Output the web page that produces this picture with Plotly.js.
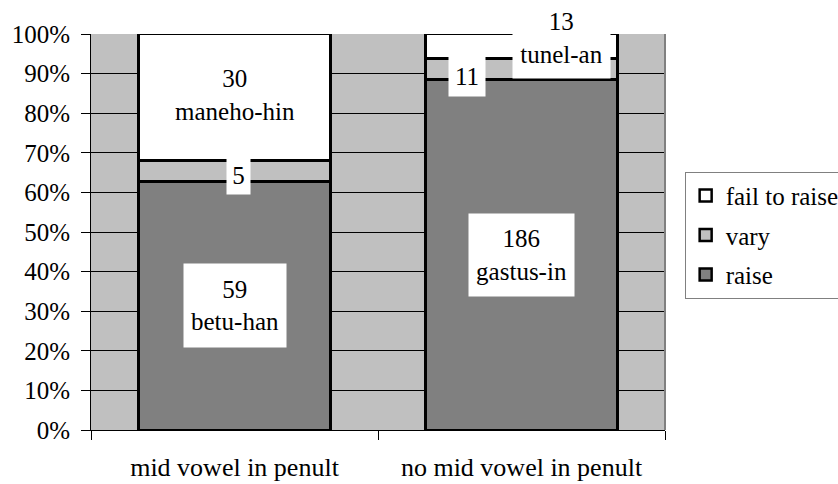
<!DOCTYPE html>
<html>
<head>
<meta charset="utf-8">
<script src="https://cdn.plot.ly/plotly-3.0.1.min.js"></script>
</head>
<body style="margin:0">
<div id="plotDiv" style="width:838px;height:484px"></div>
<script>
// Data: counts per group, stacked to 100%
const groups = ['mid vowel in penult', 'no mid vowel in penult'];
const seriesNames = ['raise', 'vary', 'fail to raise'];
const raiseCounts = [59, 186];
const varyCounts = [5, 11];
const failCounts = [30, 13];
const exampleWords = {
    raise: ['betu-han', 'gastus-in'],
    fail: ['maneho-hin', 'tunel-an']
};
const seriesColors = ['#808080', '#c0c0c0', '#ffffff'];

const serifFont = 'Liberation Serif';

const totals = groups.map((g, i) => raiseCounts[i] + varyCounts[i] + failCounts[i]);
const shares = [raiseCounts, varyCounts, failCounts].map(arr => arr.map((v, i) => v / totals[i]));

const traces = shares.map((vals, k) => ({
    type: 'bar',
    name: seriesNames[k],
    legendgroup: seriesNames[k],
    legendrank: 3 - k,
    x: groups,
    y: vals,
    marker: {color: seriesColors[k], line: {color: '#000000', width: 2.5}},
    hoverinfo: 'skip'
}));

// Labels: placed at the middle of each stacked segment
function segMid(k, i) {
    let base = 0;
    for (let j = 0; j < k; j++) base += shares[j][i];
    return base + shares[k][i] / 2;
}

function label(i, k, text, extra) {
    return Object.assign({
        x: groups[i], y: segMid(k, i), text: text,
        xref: 'x', yref: 'y',
        showarrow: false,
        bgcolor: '#ffffff',
        font: {family: serifFont, size: 25, color: '#000000'}
    }, extra);
}

const annotations = [
    // mid vowel in penult
    label(0, 2, failCounts[0] + '<br>' + exampleWords.fail[0], {width: 150, height: 72, yshift: 2}),
    label(0, 1, String(varyCounts[0]), {width: 21, height: 36, xshift: 4, yshift: -4}),
    label(0, 0, raiseCounts[0] + '<br>' + exampleWords.raise[0], {width: 100, height: 81}),
    // no mid vowel in penult
    label(1, 2, failCounts[1] + '<br>' + exampleWords.fail[1], {width: 95, height: 78, xshift: 40, yshift: 8}),
    label(1, 1, String(varyCounts[1]), {width: 34, height: 38, xshift: -55, yshift: -7}),
    label(1, 0, raiseCounts[1] + '<br>' + exampleWords.raise[1], {width: 103, height: 80})
];

const layout = {
    width: 838,
    height: 484,
    margin: {l: 91, r: 173, t: 34, b: 54},
    paper_bgcolor: '#ffffff',
    plot_bgcolor: '#c0c0c0',
    barmode: 'stack',
    bargap: 0.33,
    font: {family: serifFont, size: 25, color: '#000000'},
    showlegend: true,
    legend: {
        xref: 'container', yref: 'container',
        x: 0.817, y: 0.645,
        xanchor: 'left', yanchor: 'top',
        bgcolor: '#ffffff',
        bordercolor: '#808080',
        borderwidth: 1,
        traceorder: 'grouped',
        tracegroupgap: 4,
        font: {family: serifFont, size: 25, color: '#000000'}
    },
    xaxis: {
        type: 'category',
        tickson: 'boundaries',
        ticks: 'outside',
        ticklen: 9,
        tickcolor: '#000000',
        showline: true,
        linecolor: '#000000',
        linewidth: 1,
        showgrid: false,
        ticklabelstandoff: 14,
        tickfont: {family: serifFont, size: 26, color: '#000000'}
    },
    yaxis: {
        range: [0, 1],
        dtick: 0.1,
        tickformat: '.0%',
        ticks: 'outside',
        ticklen: 9,
        tickcolor: '#000000',
        showline: true,
        linecolor: '#000000',
        linewidth: 1,
        showgrid: true,
        gridcolor: '#000000',
        gridwidth: 1,
        zeroline: false,
        ticklabelstandoff: 6,
        tickfont: {family: serifFont, size: 25, color: '#000000'}
    },
    shapes: [
        {type: 'line', xref: 'paper', yref: 'paper', x0: 1, x1: 1, y0: 0, y1: 1,
         line: {color: '#808080', width: 2}}
    ],
    annotations: annotations
};

Plotly.newPlot('plotDiv', traces, layout, {displayModeBar: false});
</script>
</body>
</html>
